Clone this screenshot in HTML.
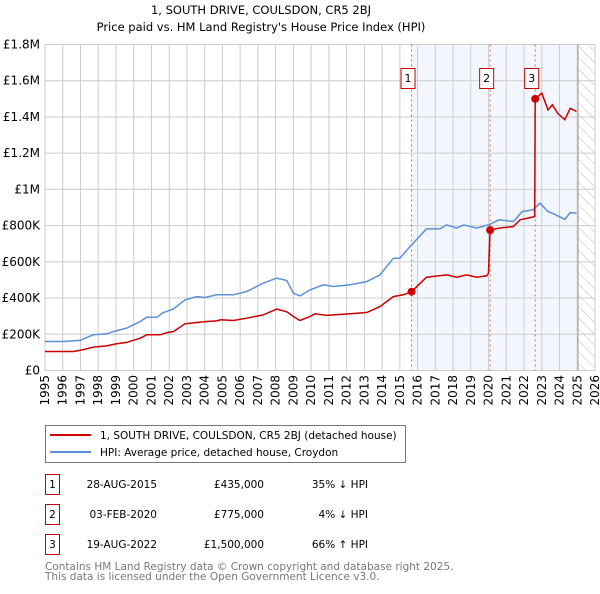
<!DOCTYPE html>
<html><head><meta charset="utf-8"><style>
body{margin:0;background:#fff;font-family:"DejaVu Sans","Liberation Sans",sans-serif;}
svg text{font-family:"DejaVu Sans","Liberation Sans",sans-serif;}
</style></head><body>
<svg id="chart" width="600" height="590" xmlns="http://www.w3.org/2000/svg">
<defs><pattern id="hatch" width="8" height="8" patternUnits="userSpaceOnUse" patternTransform="rotate(-45)"><line x1="0" y1="0" x2="0" y2="8" stroke="#bbb" stroke-width="1"/></pattern></defs>
<text x="261" y="14" text-anchor="middle" font-size="11.5">1, SOUTH DRIVE, COULSDON, CR5 2BJ</text>
<text x="261" y="31" text-anchor="middle" font-size="11.5">Price paid vs. HM Land Registry's House Price Index (HPI)</text>
<g id="grid"></g><g id="marks"></g><g id="axes"></g>
<rect x="45.5" y="425.5" width="360" height="37" fill="#fff" stroke="#777"/>
<line x1="50" y1="435" x2="91" y2="435" stroke="#cc0000" stroke-width="2"/>
<text x="100" y="439" font-size="10.5">1, SOUTH DRIVE, COULSDON, CR5 2BJ (detached house)</text>
<line x1="50" y1="452" x2="91" y2="452" stroke="#5b8fd6" stroke-width="2"/>
<text x="100" y="456" font-size="10.5">HPI: Average price, detached house, Croydon</text>
<g id="table" font-size="10.5"></g>
<text x="45" y="570" font-size="10.5" fill="#777">Contains HM Land Registry data © Crown copyright and database right 2025.</text>
<text x="45" y="580" font-size="10.5" fill="#777">This data is licensed under the Open Government Licence v3.0.</text>
</svg>
<script>
const hpiYears=[1995,1996.03,1996.97,1997.72,1998.47,1998.85,1999.6,2000.36,2000.73,2001.3,2001.67,2002.23,2002.89,2003.55,2004.02,2004.68,2005.62,2006.37,2007.3,2008.06,2008.63,2009.0,2009.37,2009.94,2010.69,2011.25,2012.2,2013.13,2013.88,2014.63,2015.0,2015.57,2016.5,2017.26,2017.64,2018.2,2018.6,2019.33,2019.99,2020.6,2021.4,2021.9,2022.5,2022.9,2023.35,2023.8,2024.3,2024.6,2024.96];
const hpiValues=[160,160,166,197,202,215,234,270,294,294,320,339,390,408,403,418,418,436,482,510,497,427,412,445,473,464,473,491,528,620,620,684,782,782,804,786,804,786,804,832,822,878,887,924,878,859,835,872,868];
const priceYears=[1995,1996.6,1997.1,1997.72,1998.47,1999.0,1999.6,2000.36,2000.73,2001.5,2001.9,2002.23,2002.89,2003.55,2004.02,2004.68,2004.9,2005.62,2006.37,2007.3,2008.06,2008.63,2009.0,2009.37,2009.94,2010.22,2010.88,2012.2,2013.13,2013.88,2014.63,2015.2,2015.66,2016.5,2017.64,2018.2,2018.76,2019.33,2019.9,2020.0,2020.09,2020.6,2021.4,2021.78,2022.6,2022.63,2023.0,2023.35,2023.6,2023.9,2024.3,2024.6,2024.96];
const priceValues=[105,105,114,129,136,147,155,178,197,197,210,215,258,265,270,274,280,276,289,307,339,324,298,276,298,313,304,313,320,353,408,418,435,515,528,515,528,515,523,537,775,786,795,832,850,1500,1531,1439,1467,1420,1384,1448,1430];
const sales=[{n:"1",year:2015.66,price:435,date:"28-AUG-2015",label:"£435,000",delta:"35% ↓ HPI"},{n:"2",year:2020.09,price:775,date:"03-FEB-2020",label:"£775,000",delta:"4% ↓ HPI"},{n:"3",year:2022.63,price:1500,date:"19-AUG-2022",label:"£1,500,000",delta:"66% ↑ HPI"}];
const yTicks=[0,200,400,600,800,1000,1200,1400,1600,1800];
const yTickLabels=["£0","£200K","£400K","£600K","£800K","£1M","£1.2M","£1.4M","£1.6M","£1.8M"];
const xTicks=[1995,1996,1997,1998,1999,2000,2001,2002,2003,2004,2005,2006,2007,2008,2009,2010,2011,2012,2013,2014,2015,2016,2017,2018,2019,2020,2021,2022,2023,2024,2025,2026];
const NS="http://www.w3.org/2000/svg";
const L=45,R=595,T=44.5,B=370.5,dataEnd=2025.04;
const X=y=>L+(y-1995)/(2026-1995)*(R-L);
const Y=v=>B-v/1800*(B-T);
function mk(p,tag,at){const e=document.createElementNS(NS,tag);for(const k in at)e.setAttribute(k,at[k]);p.appendChild(e);return e;}
const grid=document.getElementById('grid'),marks=document.getElementById('marks'),axes=document.getElementById('axes'),table=document.getElementById('table');
let r=mk(grid,'rect',{x:X(sales[0].year),y:T,width:X(dataEnd)-X(sales[0].year),height:B-T,fill:'#eef3fc',opacity:0.7});


r=mk(grid,'rect',{x:X(dataEnd),y:T,width:R-X(dataEnd),height:B-T,fill:'url(#hatch)'});


xTicks.forEach(t=>{const l=mk(grid,'line',{x1:X(t),x2:X(t),y1:T,y2:B,stroke:'#ccc'});


const tx=mk(axes,'text',{x:0,y:0,'font-size':12,'text-anchor':'end',transform:`translate(${X(t)+4},375) rotate(-90)`});tx.textContent=t;

});
yTicks.forEach((t,i)=>{const l=mk(grid,'line',{x1:L,x2:R,y1:Y(t),y2:Y(t),stroke:'#ccc'});


const tx=mk(axes,'text',{x:40,y:Y(t)+4,'font-size':12,'text-anchor':'end'});tx.textContent=yTickLabels[i];

});
let vl=mk(grid,'line',{x1:X(dataEnd),x2:X(dataEnd),y1:T,y2:B,stroke:'#999'});


sales.forEach(s=>{const l=mk(grid,'line',{x1:X(s.year),x2:X(s.year),y1:T,y2:B,stroke:'#e06060','stroke-dasharray':'2,3'});

});
const pts=(xs,vs)=>xs.map((x,i)=>X(x).toFixed(1)+','+Y(vs[i]).toFixed(1)).join(' ');
let hl=mk(marks,'polyline',{points:pts(hpiYears,hpiValues),fill:'none',stroke:'#5b8fd6','stroke-width':1.5});


let pl=mk(marks,'polyline',{points:pts(priceYears,priceValues),fill:'none',stroke:'#cc0000','stroke-width':1.5});


sales.forEach((s,i)=>{const c=mk(marks,'circle',{cx:X(s.year),cy:Y(s.price),r:4,fill:'#cc0000'});


const bx=X(s.year)-10;
const b=mk(marks,'rect',{x:bx-0.5,y:68.5,width:14,height:20,fill:'#fff',stroke:'#cc0000'});


const t=mk(marks,'text',{x:bx+6.5,y:82,'font-size':11,'text-anchor':'middle'});t.textContent=s.n;


const ry=475+i*30;
const tb=mk(table,'rect',{x:45.5,y:ry-0.5,width:14,height:20,fill:'#fff',stroke:'#cc0000'});


const tn=mk(table,'text',{x:52.5,y:ry+13,'text-anchor':'middle'});tn.textContent=s.n;


const td=mk(table,'text',{x:157,y:ry+13,'text-anchor':'end'});td.textContent=s.date;


const tp=mk(table,'text',{x:264,y:ry+13,'text-anchor':'end'});tp.textContent=s.label;


const th=mk(table,'text',{x:368,y:ry+13,'text-anchor':'end'});th.textContent=s.delta;

});
</script>
</body></html>
